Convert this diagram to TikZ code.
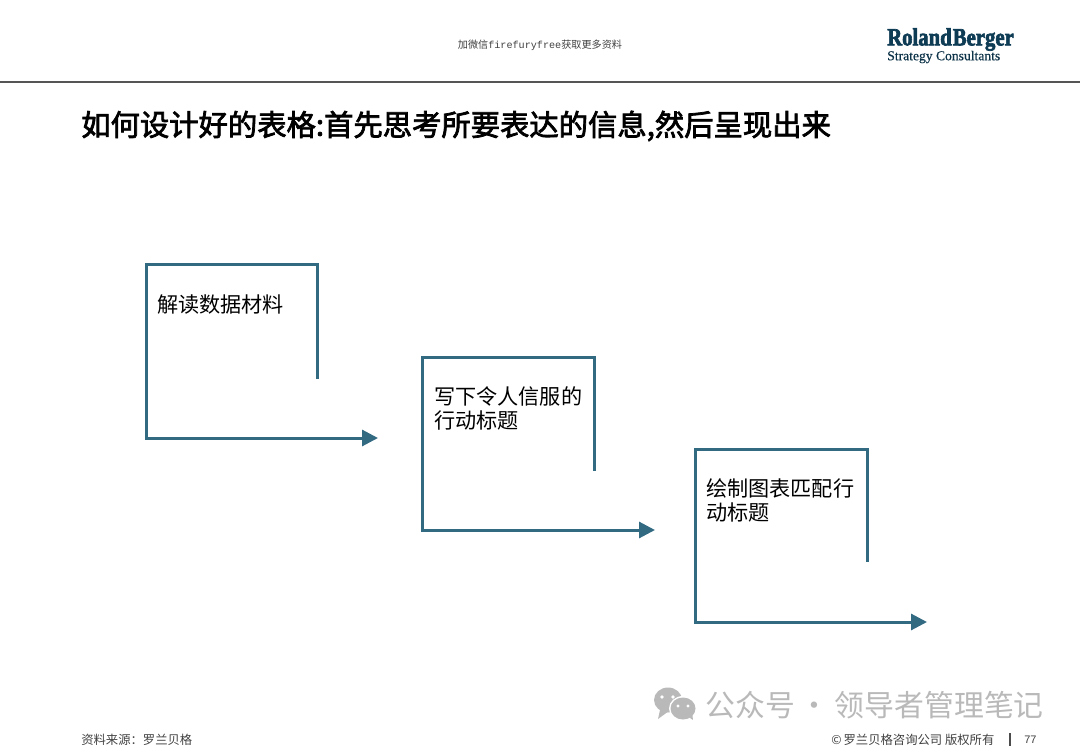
\documentclass[tikz,border=0pt]{standalone}
\usepackage{fontspec}
\setmainfont{Liberation Sans}
\newfontfamily\cjk{Noto Sans CJK SC}
\newfontfamily\cjkheavy[FakeBold=2.5]{Noto Sans CJK SC}
\newfontfamily\logofont[FakeBold=3]{Liberation Serif Bold}
\newfontfamily\sublogofont[FakeBold=0.5]{Liberation Serif}
\newfontfamily\monofont{Liberation Mono}
\usepackage{xcolor}
\usepackage{tikz}
\usetikzlibrary{
	arrows.meta,
	calc,
	positioning
}
\definecolor{StepBlue}{RGB}{50,106,130}
\definecolor{LogoBlue}{RGB}{15,60,85}
\definecolor{RuleGray}{RGB}{85,85,85}
\definecolor{MarkGray}{RGB}{185,185,185}
\tikzset{
	steppath/.style={draw=StepBlue, line width=2.25pt, line join=miter, -{Triangle[length=12pt,width=12pt]}},
	steptext/.style={anchor=north west, inner sep=0pt, align=left, font=\cjk\fontsize{15.85}{18}\selectfont},
	smalltext/.style={inner sep=0pt, text=black!75, font=\cjk\fontsize{9.25}{10}\selectfont},
	marktext/.style={inner sep=0pt, text=MarkGray, font=\cjk\fontsize{22.4}{24}\selectfont}
}

\begin{document}
\begin{tikzpicture}[x=0.75pt, y=-0.75pt]
		\useasboundingbox (0,0) rectangle (1080,748);
		
		% 页眉
		\coordinate (ruleL) at (0,82.5);
		\coordinate (ruleR) at (1080,82.5);
		\draw[RuleGray, line width=1.5pt] (ruleL) -- (ruleR);
		\node[smalltext, font=\cjk\fontsize{7.6}{10}\selectfont] (header) at (540,45) {加微信{\monofont firefuryfree}获取更多资料};
		\node[anchor=west, inner sep=0pt, text=LogoBlue, xscale=0.84, transform shape, font=\logofont\fontsize{18.5}{18}\selectfont] (logoA) at (887,39.5) {Roland\kern1pt Berger};
		\node[anchor=west, inner sep=0pt, text=LogoBlue!85!black, font=\sublogofont\fontsize{10.2}{12}\selectfont] (logoB) at (887,57) {Strategy Consultants};
		
		% 标题
		\node[anchor=west, inner sep=0pt, font=\cjkheavy\fontsize{22}{26}\selectfont] (title) at (81,126) {如何设计好的表格:首先思考所要表达的信息,然后呈现出来};
		
		% 第一步
		\coordinate (aS) at (317,379);
		\coordinate (aR) at (317,265);
		\coordinate (aL) at (146,265);
		\coordinate (aB) at (146,438);
		\coordinate (aE) at (378,438);
		\draw[steppath] (aS) -- (aR) -- (aL) -- (aB) -- (aE);
		\node[steptext] (textA) at (157,294) {解读数据材料};
		
		% 第二步
		\coordinate (bS) at (594,471);
		\coordinate (bR) at (594,357);
		\coordinate (bL) at (422,357);
		\coordinate (bB) at (422,530);
		\coordinate (bE) at (655,530);
		\draw[steppath] (bS) -- (bR) -- (bL) -- (bB) -- (bE);
		\node[steptext] (textB) at (434,386) {写下令人信服的\\行动标题};
		
		% 第三步
		\coordinate (cS) at (867,562);
		\coordinate (cR) at (867,449);
		\coordinate (cL) at (695,449);
		\coordinate (cB) at (695,622);
		\coordinate (cE) at (927,622);
		\draw[steppath] (cS) -- (cR) -- (cL) -- (cB) -- (cE);
		\node[steptext] (textC) at (706,478) {绘制图表匹配行\\动标题};
		
		% 水印
		\fill[MarkGray] (668,700) ellipse (14 and 12.5);
		\fill[MarkGray] (660,710) -- (658,719) -- (669,711) -- cycle;
		\fill[white] (683,708.5) ellipse (14 and 12.5);
		\fill[MarkGray] (683,708.5) ellipse (12.5 and 11);
		\fill[MarkGray] (687,716) -- (693,720) -- (692,712) -- cycle;
		\fill[white] (662,697) circle (1.8) (673,697) circle (1.8) (678,706) circle (1.6) (688,706) circle (1.6);
		\node[marktext, anchor=west] (mark) at (705,705) {公众号\,·\,领导者管理笔记};
		
		% 页脚
		\node[smalltext, anchor=west] (source) at (81,740) {资料来源：罗兰贝格};
		\node[smalltext, anchor=west] (copy) at (831,740) {©\,罗兰贝格咨询公司 版权所有};
		\coordinate (barT) at (1010,733);
		\coordinate (barB) at (1010,746);
		\draw[black!70, line width=0.9pt] (barT) -- (barB);
		\node[smalltext, anchor=west, font=\fontsize{8.2}{10}\selectfont] (page) at (1024,740) {77};
	\end{tikzpicture}
\end{document}
